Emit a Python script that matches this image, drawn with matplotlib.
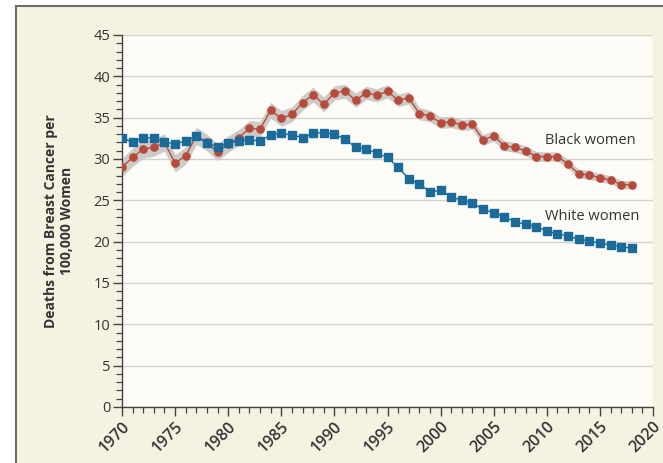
import numpy as np
import matplotlib
matplotlib.use("Agg")
import matplotlib.pyplot as plt
from matplotlib.patches import Rectangle
from matplotlib.ticker import MultipleLocator

years = list(range(1970, 2019))

black = [29.0, 30.2, 31.2, 31.4, 32.0, 29.5, 30.4, 32.8, 32.0, 30.8,
         31.8, 32.6, 33.7, 33.6, 35.9, 34.9, 35.4, 36.8, 37.8, 36.6,
         38.0, 38.2, 37.1, 38.0, 37.7, 38.2, 37.1, 37.4, 35.5, 35.2,
         34.4, 34.5, 34.1, 34.2, 32.3, 32.8, 31.6, 31.4, 31.0, 30.3,
         30.3, 30.3, 29.4, 28.2, 28.1, 27.7, 27.5, 26.9, 26.9]

# half width of the grey confidence band around the black-women series
black_ci = [1.1, 1.1, 1.1, 1.05, 1.05, 1.05, 1.05, 1.05, 1.0, 1.0,
            1.0, 0.95, 0.95, 0.95, 0.95, 0.95, 0.9, 0.9, 0.9, 0.9,
            0.85, 0.85, 0.85, 0.8, 0.8, 0.8, 0.75, 0.75, 0.75, 0.7,
            0.7, 0.7, 0.65, 0.65, 0.65, 0.65, 0.6, 0.6, 0.6, 0.6,
            0.55, 0.55, 0.55, 0.55, 0.55, 0.5, 0.5, 0.5, 0.5]

white = [32.6, 32.0, 32.6, 32.5, 32.1, 31.8, 32.2, 32.8, 31.9, 31.5,
         31.9, 32.2, 32.3, 32.2, 32.9, 33.1, 32.9, 32.6, 33.1, 33.2,
         33.0, 32.4, 31.4, 31.2, 30.7, 30.2, 29.0, 27.6, 27.0, 26.0,
         26.2, 25.4, 25.0, 24.7, 23.9, 23.5, 23.0, 22.4, 22.1, 21.8,
         21.3, 20.9, 20.7, 20.3, 20.1, 19.8, 19.6, 19.4, 19.2]

cream = "#f5f2e2"
plot_bg = "#fdfcf6"
red = "#b84a3c"
blue = "#1a6a9a"

fig = plt.figure(figsize=(6.63, 4.63), dpi=100, facecolor="white")
# grey frame with cream fill
fig.patches.append(Rectangle((16 / 663, -0.1), 1.2, 1.1 - 6 / 463,
                             transform=fig.transFigure, facecolor=cream,
                             edgecolor="#6b6b6b", linewidth=1.5, zorder=-5))

ax = fig.add_axes([122 / 663, 56 / 463, 531 / 663, 372 / 463])
ax.set_facecolor(plot_bg)

b = np.array(black)
ci = np.array(black_ci)
ax.fill_between(years, b - ci, b + ci, color="#cbcbc8", lw=0, zorder=2)
ax.plot(years, black, color=red, lw=1.0, marker="o", ms=5.2, mec=red, zorder=3)
ax.plot(years, white, color=blue, lw=1.0, marker="s", ms=5.2, mec=blue, zorder=4)

ax.text(2009.8, 32.2, "Black women", fontsize=10.5, color="#333333",
        family="Open Sans", va="center")
ax.text(2009.8, 23.1, "White women", fontsize=10.5, color="#333333",
        family="Open Sans", va="center")

ax.set_xlim(1970, 2020)
ax.set_ylim(0, 45)
ax.xaxis.set_major_locator(MultipleLocator(5))
ax.xaxis.set_minor_locator(MultipleLocator(1))
ax.yaxis.set_major_locator(MultipleLocator(5))
ax.yaxis.set_minor_locator(MultipleLocator(1))
ax.grid(axis="y", which="major", color="#d3d3ce", lw=1.0, zorder=1)
ax.set_axisbelow(True)

for s in ["top", "right"]:
    ax.spines[s].set_visible(False)
for s in ["left", "bottom"]:
    ax.spines[s].set_color("#444444")
    ax.spines[s].set_linewidth(1.0)

ax.tick_params(which="major", length=6.5, width=1.0, color="#444444",
               labelsize=10.5, labelcolor="#333333", pad=2)
ax.tick_params(which="minor", length=4, width=0.9, color="#444444")
for lab in ax.get_xticklabels():
    lab.set_rotation(45)
    lab.set_ha("right")
    lab.set_rotation_mode("anchor")
    lab.set_family("Open Sans")
    lab.set_fontweight("semibold")
    lab.set_fontsize(11.5)
for lab in ax.get_yticklabels():
    lab.set_family("Open Sans")

ax.set_ylabel("Deaths from Breast Cancer per\n100,000 Women", fontsize=10,
              fontweight="bold", family="Open Sans", color="#333333",
              labelpad=14, linespacing=1.2)

fig.savefig("out.png", dpi=100, facecolor="white")
